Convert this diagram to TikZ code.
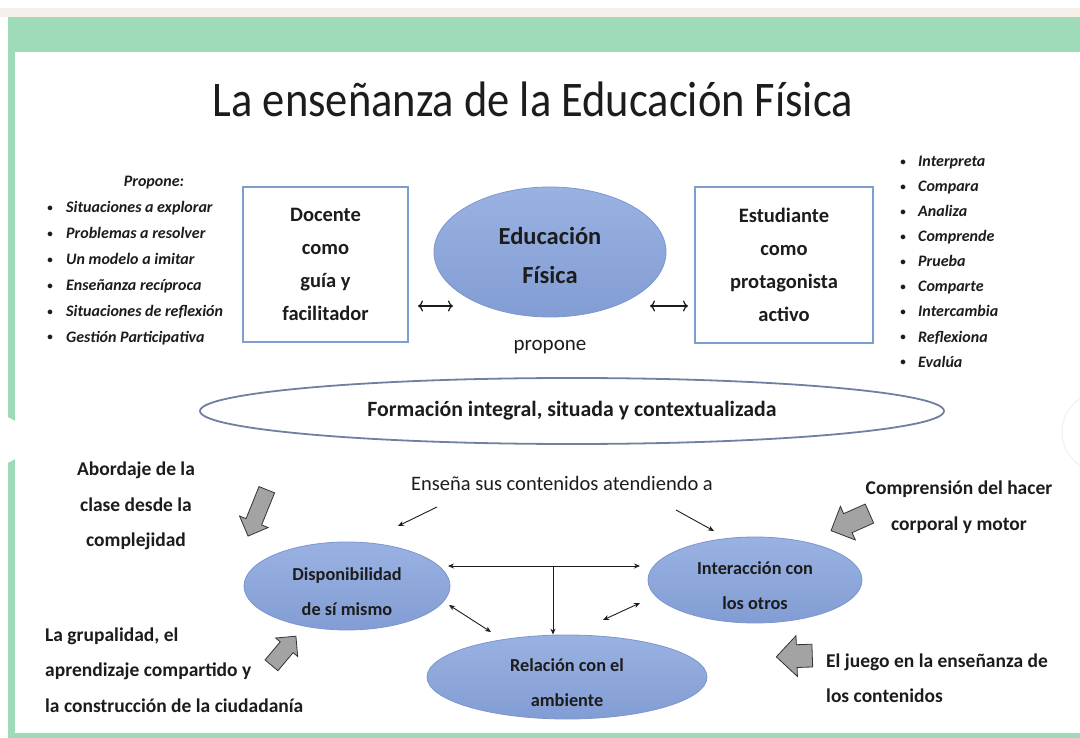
\documentclass[tikz,border=0pt]{standalone}
\usepackage{fontspec}
\setmainfont{Carlito}
\usetikzlibrary{shapes.geometric,shapes.arrows,arrows.meta,positioning,calc}

\definecolor{bandgreen}{RGB}{158,219,184}
\definecolor{topbeige}{RGB}{247,240,234}
\definecolor{elblue}{RGB}{130,157,212}
\definecolor{elbluetop}{RGB}{154,178,226}
\definecolor{elblueedge}{RGB}{124,150,206}
\definecolor{boxblue}{RGB}{127,157,205}
\definecolor{ringgray}{RGB}{112,128,160}
\definecolor{inkdark}{RGB}{28,28,28}
\definecolor{fatgray}{RGB}{163,163,163}

\tikzset{
  blueoval/.style={ellipse, draw=elblueedge, line width=0.8pt, top color=elbluetop,
    bottom color=elblue, inner sep=0pt},
  ovaltext/.style={align=center, text=inkdark, inner sep=0pt, yshift=-6pt,
    font=\bfseries\fontsize{18.3}{35}\selectfont},
  rolebox/.style={rectangle, draw=boxblue, line width=1.3pt, fill=white, inner sep=0pt,
    align=center, text=inkdark, font=\bfseries\fontsize{20.5}{33}\selectfont},
  sidelabel/.style={inner sep=0pt, text=inkdark, font=\bfseries\fontsize{19.5}{35.5}\selectfont},
  listitem/.style={anchor=base west, inner sep=0pt, text=inkdark,
    font=\bfseries\itshape\fontsize{16}{20}\selectfont},
  listdot/.style={anchor=base, inner sep=0pt, text=inkdark, font=\bfseries\fontsize{11}{20}\selectfont},
  thinlink/.style={line width=0.9pt, inkdark, {Stealth[length=6pt,width=5pt]}-{Stealth[length=6pt,width=5pt]}},
  openlink/.style={line width=1.2pt, inkdark, {To[length=5pt,width=11pt]}-{To[length=5pt,width=11pt]}},
  fatarrow/.style={single arrow, draw=gray!40!black, fill=fatgray, line width=0.8pt,
    inner xsep=0pt}
}

\begin{document}
\begin{tikzpicture}[x=1pt,y=-1pt]
  \useasboundingbox (0,0) rectangle (1080,738);
  % frame
  \fill[white] (0,0) rectangle (1080,738);
  \fill[topbeige] (0,8) rectangle (1080,17);
  \fill[bandgreen] (8,17) rectangle (1080,52);
  \fill[bandgreen] (8,17) rectangle (15,738);
  \fill[bandgreen] (8,733) rectangle (1080,738);
  \fill[white] (0,440) circle (24);
  \draw[gray!12, line width=1pt] (1102,432) circle (40);

  % title
  \node[anchor=base, text=inkdark, font=\fontsize{44.5}{50}\selectfont] (title) at (533,117)
    {\scalebox{1}[1.12]{La enseñanza de la Educación Física}};

  % left list
  \node[anchor=base, text=inkdark, font=\bfseries\itshape\fontsize{16}{20}\selectfont] (propone) at (154,187) {Propone:};
  \foreach \t [count=\i] in {Situaciones a explorar, Problemas a resolver, Un modelo a imitar,
      Enseñanza recíproca, Situaciones de reflexión, Gestión Participativa} {
    \node[listdot] (pdot\i) at (50,{212+25.8*(\i-1)}) {\textbullet};
    \node[listitem] (prop\i) at (66,{213+25.8*(\i-1)}) {\t};
  }

  % right list
  \foreach \t [count=\i] in {Interpreta, Compara, Analiza, Comprende, Prueba, Comparte,
      Intercambia, Reflexiona, Evalúa} {
    \node[listdot] (edot\i) at (903,{166+25*(\i-1)}) {\textbullet};
    \node[listitem] (est\i) at (918,{167+25*(\i-1)}) {\t};
  }

  % top row
  \node[rolebox, minimum width=165, minimum height=155] (docente) at (325.5,264.5)
    {Docente\\como\\guía y\\facilitador};
  \node[blueoval, minimum width=232, minimum height=130, label={[ovaltext, yshift=3pt,
    font=\bfseries\fontsize{24.5}{39}\selectfont]center:Educación\\Física}] (edfis) at (550,252) {};
  \node[rolebox, minimum width=178, minimum height=156] (estud) at (784,265)
    {Estudiante\\como\\protagonista\\activo};
  \node[anchor=base, text=inkdark, font=\fontsize{21}{25}\selectfont] (propverb) at (550,350) {propone};

  \coordinate (lA) at (418,306);
  \coordinate (lB) at (453,306);
  \coordinate (rA) at (650,306);
  \coordinate (rB) at (688,306);
  \draw[openlink] (lA) -- (lB);
  \draw[openlink] (rA) -- (rB);

  % formation ring
  \node[ellipse, draw=ringgray, line width=1.8pt, fill=white, minimum width=744,
    minimum height=66, text=inkdark, font=\bfseries\fontsize{21.8}{24}\selectfont] (formacion) at (572,411)
    {Formación integral, situada y contextualizada};

  \node[text=inkdark, font=\fontsize{20.5}{24}\selectfont] (ensena) at (562,483)
    {Enseña sus contenidos atendiendo a};

  % three dimensions
  \node[blueoval, minimum width=206, minimum height=88,
    label={[ovaltext]center:Disponibilidad\\de sí mismo}] (dispo) at (347,586) {};
  \node[blueoval, minimum width=214, minimum height=86,
    label={[ovaltext]center:Interacción con\\los otros}] (inter) at (755,580) {};
  \node[blueoval, minimum width=280, minimum height=84,
    label={[ovaltext]center:Relación con el\\ambiente}] (relac) at (567,677) {};

  \coordinate (eL1) at (437,507);
  \coordinate (eL2) at (398,526);
  \coordinate (eR1) at (676,510);
  \coordinate (eR2) at (714,531);
  \draw[line width=0.9pt, inkdark, -{Stealth[length=6pt,width=5pt]}] (eL1) -- (eL2);
  \draw[line width=0.9pt, inkdark, -{Stealth[length=6pt,width=5pt]}] (eR1) -- (eR2);

  \coordinate (hL) at (448,566);
  \coordinate (hR) at (640,566);
  \coordinate (vTop) at (553,566);
  \draw[thinlink] (hL) -- (hR);
  \draw[line width=0.9pt, inkdark, -{Stealth[length=6pt,width=5pt]}] (vTop) -- (vTop|-relac.north);
  \coordinate (dL1) at (449,605);
  \coordinate (dL2) at (491,632);
  \draw[thinlink] (dL1) -- (dL2);
  \coordinate (dR1) at (603,620);
  \coordinate (dR2) at (640,603);
  \draw[thinlink] (dR1) -- (dR2);

  % block arrows
  \node[fatarrow, rotate=248, minimum height=50, inner ysep=8pt, single arrow head extend=7pt] (fat1) at (259,509) {};
  \node[fatarrow, rotate=50, minimum height=38, inner ysep=8pt, single arrow head extend=6pt] (fat2) at (281,654) {};
  \node[fatarrow, rotate=204, minimum height=42, inner ysep=10pt, single arrow head extend=8pt] (fat3) at (855,520) {};
  \node[fatarrow, rotate=182, minimum height=36, inner ysep=11pt, single arrow head extend=9pt] (fat4) at (800,656) {};

  % side labels
  \node[sidelabel, align=center] (abord) at (136,506) {Abordaje de la\\clase desde la\\complejidad};
  \node[sidelabel, align=left, anchor=west] (grupal) at (45,670)
    {La grupalidad, el\\aprendizaje compartido y\\la construcción de la ciudadanía};
  \node[sidelabel, align=center] (compr) at (959,507) {Comprensión del hacer\\corporal y motor};
  \node[sidelabel, align=left, anchor=west] (juego) at (826,678)
    {El juego en la enseñanza de\\los contenidos};
\end{tikzpicture}
\end{document}
